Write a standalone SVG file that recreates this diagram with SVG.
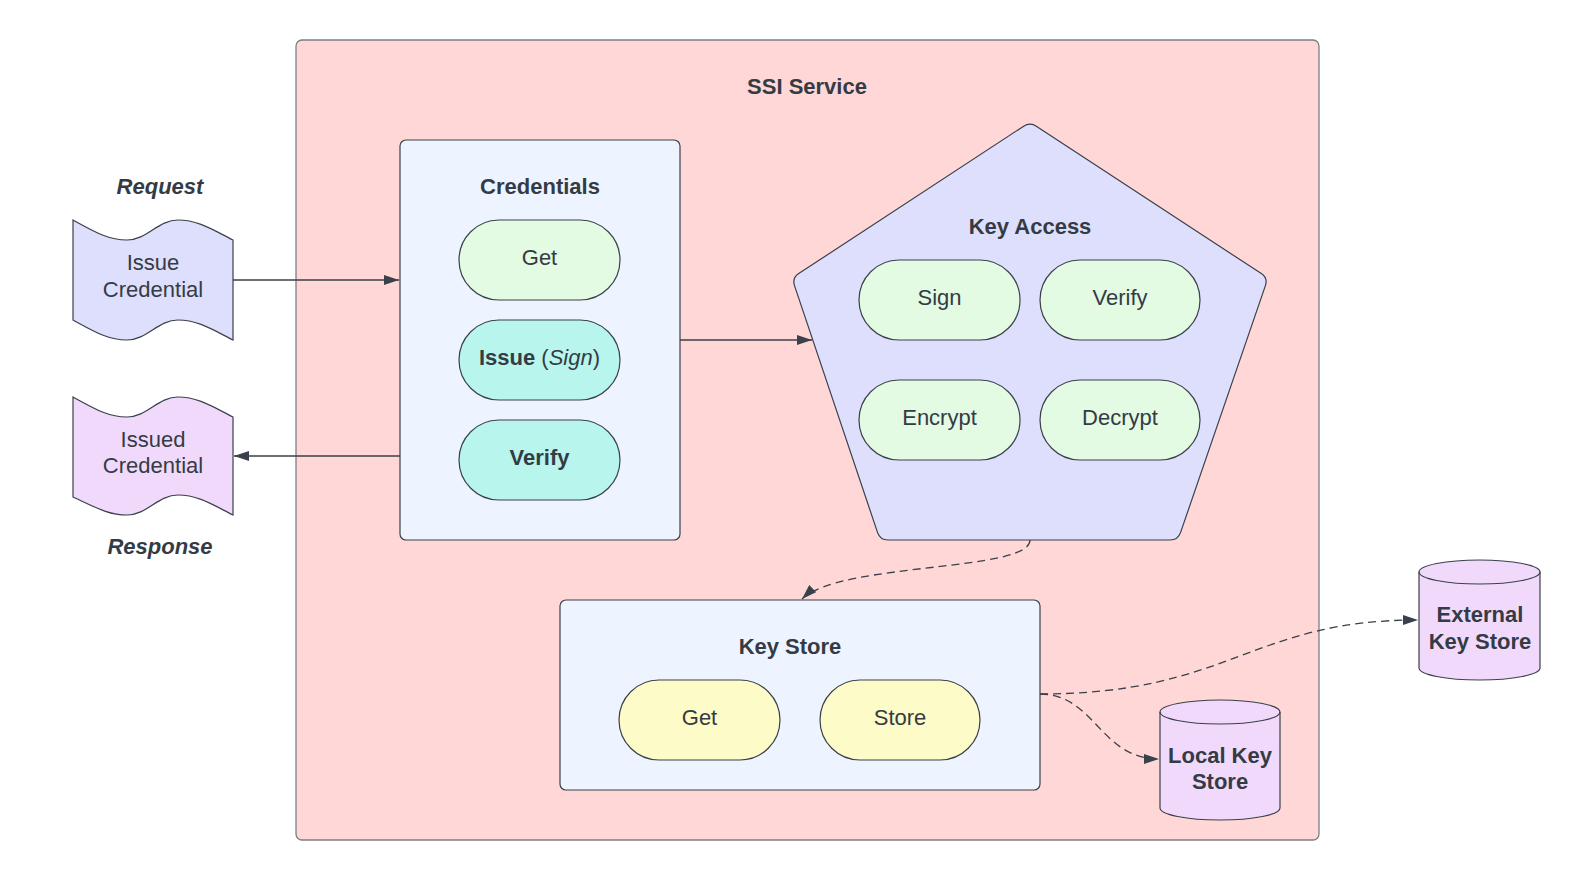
<svg xmlns="http://www.w3.org/2000/svg" width="1580" height="880" viewBox="0 0 1580 880">
<defs>
<style>
text{font-family:"Liberation Sans",Arial,sans-serif;fill:#343b45;font-size:22px;text-anchor:middle}
.b{font-weight:bold}
.bi{font-weight:bold;font-style:italic}
.shape{stroke:#3a414a;stroke-width:1.2}
.pill-g{fill:#e3fae3}
.pill-t{fill:#b8f5ed}
.pill-y{fill:#fdfbc7}
.box{fill:#edf4ff}
.conn{fill:none;stroke:#3a414a;stroke-width:1.3}
.dash{stroke-dasharray:8 5}
</style>
<marker id="arr" viewBox="0 0 15 10" refX="15" refY="5" markerWidth="15" markerHeight="10" markerUnits="userSpaceOnUse" orient="auto">
<path d="M0,0 L15,5 L0,10 Z" fill="#3a414a"/>
</marker>
</defs>
<rect width="1580" height="880" fill="#ffffff"/>

<g id="ssi-service">
<rect x="296" y="40" width="1023" height="800" rx="6" fill="#ffd7d7" stroke="#7b8087" stroke-width="1.3"/>
<text class="b" x="807" y="94">SSI Service</text>
</g>

<g id="request-label"><text class="bi" x="160" y="194">Request</text></g>
<g id="response-label"><text class="bi" x="160" y="554">Response</text></g>

<g id="issue-credential">
<path class="shape" fill="#dedffc" d="M73,220 C95,232 108,240 127,240 C147,240 158,220 178,220 C198,220 213,230 233,240 L233,340 C213,330 198,320 178,320 C158,320 147,340 127,340 C108,340 95,332 73,320 Z"/>
<text x="153" y="270">Issue</text>
<text x="153" y="297">Credential</text>
</g>

<g id="issued-credential">
<path class="shape" fill="#f1d9fc" d="M73,397 C95,409 108,417 127,417 C147,417 158,397 178,397 C198,397 213,407 233,417 L233,515 C213,505 198,495 178,495 C158,495 147,515 127,515 C108,515 95,507 73,497 Z"/>
<text x="153" y="447">Issued</text>
<text x="153" y="473">Credential</text>
</g>

<g id="credentials">
<rect class="shape box" x="400" y="140" width="280" height="400" rx="6"/>
<text class="b" x="540" y="194">Credentials</text>
<g id="cred-get">
<rect class="shape pill-g" x="459" y="220" width="161" height="80" rx="40"/>
<text x="539.5" y="265">Get</text>
</g>
<g id="cred-issue">
<rect class="shape pill-t" x="459" y="320" width="161" height="80" rx="40"/>
<text x="539.5" y="365"><tspan font-weight="bold">Issue</tspan> (<tspan font-style="italic">Sign</tspan>)</text>
</g>
<g id="cred-verify">
<rect class="shape pill-t" x="459" y="420" width="161" height="80" rx="40"/>
<text class="b" x="539.5" y="465">Verify</text>
</g>
</g>

<g id="key-access">
<path class="shape" fill="#dedffc" d="M1036.7,126.4 L1261.3,273.6 Q1268,278 1265.4,285.6 L1180.6,532.4 Q1178,540 1170,540 L888,540 Q880,540 877.5,532.4 L794.5,285.6 Q792,278 798.7,273.6 L1023.3,126.4 Q1030,122 1036.7,126.4 Z"/>
<text class="b" x="1030" y="234">Key Access</text>
<g id="ka-sign">
<rect class="shape pill-g" x="859" y="260" width="161" height="80" rx="40"/>
<text x="939.5" y="305">Sign</text>
</g>
<g id="ka-verify">
<rect class="shape pill-g" x="1040" y="260" width="160" height="80" rx="40"/>
<text x="1120" y="305">Verify</text>
</g>
<g id="ka-encrypt">
<rect class="shape pill-g" x="859" y="380" width="161" height="80" rx="40"/>
<text x="939.5" y="425">Encrypt</text>
</g>
<g id="ka-decrypt">
<rect class="shape pill-g" x="1040" y="380" width="160" height="80" rx="40"/>
<text x="1120" y="425">Decrypt</text>
</g>
</g>

<g id="key-store">
<rect class="shape box" x="560" y="600" width="480" height="190" rx="6"/>
<text class="b" x="790" y="654">Key Store</text>
<g id="ks-get">
<rect class="shape pill-y" x="619" y="680" width="161" height="80" rx="40"/>
<text x="699.5" y="725">Get</text>
</g>
<g id="ks-store">
<rect class="shape pill-y" x="820" y="680" width="160" height="80" rx="40"/>
<text x="900" y="725">Store</text>
</g>
</g>

<g id="local-key-store">
<path class="shape" fill="#f1d9fc" d="M1160,712 A60,12 0 0 1 1280,712 L1280,808 A60,12 0 0 1 1160,808 Z"/>
<path class="shape" fill="none" d="M1160,712 A60,12 0 0 0 1280,712"/>
<text class="b" x="1220" y="763">Local Key</text>
<text class="b" x="1220" y="789">Store</text>
</g>

<g id="external-key-store">
<path class="shape" fill="#f1d9fc" d="M1419,572 A60.5,12 0 0 1 1540,572 L1540,668 A60.5,12 0 0 1 1419,668 Z"/>
<path class="shape" fill="none" d="M1419,572 A60.5,12 0 0 0 1540,572"/>
<text class="b" x="1480" y="622">External</text>
<text class="b" x="1480" y="649">Key Store</text>
</g>

<g id="connectors">
<path class="conn" d="M233,280 L399,280" marker-end="url(#arr)"/>
<path class="conn" d="M400,456 L234,456" marker-end="url(#arr)"/>
<path class="conn" d="M680,340 L812,340" marker-end="url(#arr)"/>
<path class="conn dash" d="M1030,540 C1030,572 840,562 802,599" marker-end="url(#arr)"/>
<path class="conn dash" d="M1040,694 C1095,694 1100,759 1159,759" marker-end="url(#arr)"/>
<path class="conn dash" d="M1040,694 C1230,694 1250,620 1418,620" marker-end="url(#arr)"/>
</g>
</svg>
